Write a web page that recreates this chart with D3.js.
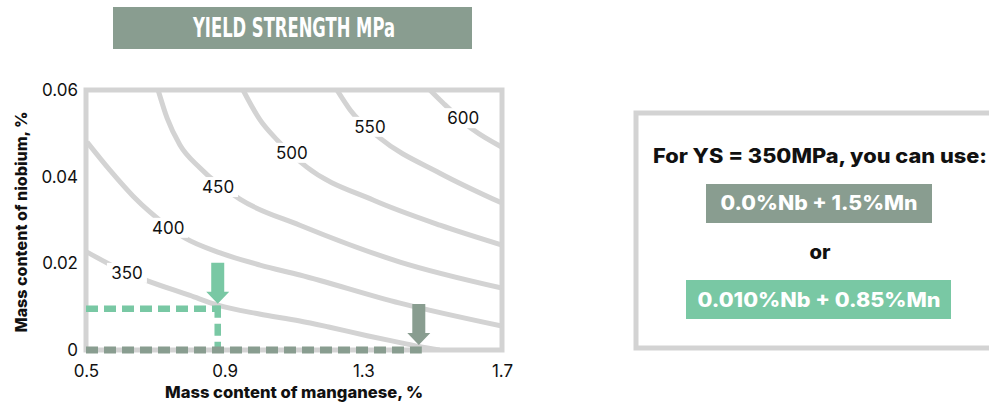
<!DOCTYPE html>
<html>
<head>
<meta charset="utf-8">
<script src="https://cdn.jsdelivr.net/npm/d3@7"></script>
<style>
  body { margin: 0; background: #fff; }
  svg { display: block; font-family: Inter, "DejaVu Sans", sans-serif; }
</style>
</head>
<body>
<script>
// Mn / Nb pairs
var levels = [350, 400, 450, 500, 550, 600];
var c350 = [[0.503,0.0226],[0.6,0.0185],[0.67,0.0162],[0.8,0.0126],[0.878,0.0104],[1.0,0.0083],[1.117,0.0067],[1.2,0.0053],[1.311,0.0033],[1.406,0.0017],[1.46,0.0008],[1.52,0]];
var c400 = [[0.503,0.048],[0.569,0.0415],[0.636,0.0355],[0.685,0.0318],[0.786,0.0258],[0.887,0.0224],[1.002,0.0196],[1.117,0.0173],[1.406,0.0108],[1.7,0.0055]];
var c450 = [[0.708,0.06],[0.734,0.0535],[0.771,0.0473],[0.829,0.042],[0.944,0.0348],[1.117,0.0288],[1.406,0.0203],[1.7,0.0143]];
var c500 = [[0.953,0.06],[1.002,0.0531],[1.051,0.0485],[1.137,0.0422],[1.328,0.0346],[1.521,0.0288],[1.7,0.0242]];
var c550 = [[1.224,0.06],[1.262,0.0554],[1.348,0.0489],[1.521,0.0408],[1.7,0.0339]];
var c600 = [[1.492,0.06],[1.53,0.057],[1.617,0.0508],[1.7,0.0468]];
var contours = [c350, c400, c450, c500, c550, c600];
// where each contour label sits
var labelPos = [[0.618,0.0178],[0.737,0.0282],[0.881,0.0376],[1.094,0.0455],[1.319,0.0515],[1.588,0.0535]];

var xTicks = [0.5, 0.9, 1.3, 1.7];
var yTicks = [0, 0.02, 0.04, 0.06];

// the two highlighted recipes
var greenPoint = [0.88, 0.0095];
var grayPoint = [1.46, 0];

var titleText = "YIELD STRENGTH MPa";
var panelLines = ["For YS = 350MPa, you can use:", "0.0%Nb + 1.5%Mn", "or", "0.010%Nb + 0.85%Mn"];

var GREEN = "#79c8a4", GRAY = "#899d90", LIGHT = "#d3d3d3";

var W = 989, H = 403;
var m = {left: 86, top: 90, right: 487, bottom: 53};
var pw = W - m.left - m.right, ph = H - m.top - m.bottom;

var svg = d3.select("body").append("svg")
    .attr("width", W)
    .attr("height", H);

// Title bar
svg.append("rect")
    .attr("x", 113).attr("y", 7)
    .attr("width", 359).attr("height", 42)
    .attr("fill", GRAY);
svg.append("text")
    .attr("x", 294).attr("y", 37)
    .attr("text-anchor", "middle")
    .attr("fill", "#fff")
    .attr("font-family", "DejaVu Sans, sans-serif")
    .attr("font-size", 27)
    .attr("font-weight", "bold")
    .attr("textLength", 202)
    .attr("lengthAdjust", "spacingAndGlyphs")
    .text(titleText);

var x = d3.scaleLinear().domain([0.5, 1.7]).range([0, pw]);
var y = d3.scaleLinear().domain([0, 0.06]).range([ph, 0]);

var g = svg.append("g").attr("transform", "translate(" + m.left + "," + m.top + ")");

g.append("clipPath").attr("id", "plot-clip")
  .append("rect").attr("width", pw).attr("height", ph);

// frame
g.append("rect")
    .attr("width", pw).attr("height", ph)
    .attr("fill", "none")
    .attr("stroke", LIGHT)
    .attr("stroke-width", 5);

var line = d3.line()
    .x(function(d) { return x(d[0]); })
    .y(function(d) { return y(d[1]); })
    .curve(d3.curveMonotoneX);

g.append("g").attr("clip-path", "url(#plot-clip)")
  .selectAll("path")
  .data(contours)
  .enter()
  .append("path")
    .attr("d", line)
    .attr("fill", "none")
    .attr("stroke", LIGHT)
    .attr("stroke-width", 5);

// contour labels, with a white patch that breaks the line
var lab = g.selectAll(".lvl")
    .data(levels)
    .enter()
    .append("g")
    .attr("class", "lvl")
    .attr("transform", function(d, i) {
        return "translate(" + x(labelPos[i][0]) + "," + y(labelPos[i][1]) + ")";
    });
lab.append("rect")
    .attr("x", -20).attr("y", -10)
    .attr("width", 40).attr("height", 20)
    .attr("fill", "#fff");
lab.append("text")
    .attr("text-anchor", "middle")
    .attr("dy", "0.36em")
    .attr("font-size", 17)
    .attr("fill", "#111")
    .text(function(d) { return d; });

// dashed guides
g.append("line")
    .attr("x1", 0).attr("x2", x(greenPoint[0]) + 3)
    .attr("y1", y(greenPoint[1])).attr("y2", y(greenPoint[1]))
    .attr("stroke", GREEN).attr("stroke-width", 6.5)
    .attr("stroke-dasharray", "12,6");
g.append("line")
    .attr("x1", x(greenPoint[0])).attr("x2", x(greenPoint[0]))
    .attr("y1", y(greenPoint[1]) - 3).attr("y2", ph)
    .attr("stroke", GREEN).attr("stroke-width", 6.5)
    .attr("stroke-dasharray", "12,6");
g.append("line")
    .attr("x1", 0).attr("x2", x(grayPoint[0]) + 3)
    .attr("y1", y(grayPoint[1])).attr("y2", y(grayPoint[1]))
    .attr("stroke", GRAY).attr("stroke-width", 7)
    .attr("stroke-dasharray", "12,6");

// down arrows pointing at the two recipes
function arrow(pt, color) {
    var tx = x(pt[0]), ty = y(pt[1]) - 5;
    var p = d3.path();
    p.moveTo(tx, ty);
    p.lineTo(tx - 11.5, ty - 12);
    p.lineTo(tx - 6.5, ty - 12);
    p.lineTo(tx - 6.5, ty - 41);
    p.lineTo(tx + 6.5, ty - 41);
    p.lineTo(tx + 6.5, ty - 12);
    p.lineTo(tx + 11.5, ty - 12);
    p.closePath();
    g.append("path").attr("d", p.toString()).attr("fill", color);
}
arrow(greenPoint, GREEN);
arrow(grayPoint, GRAY);

// axes
var xAxis = g.append("g")
    .attr("transform", "translate(0," + ph + ")")
    .call(d3.axisBottom(x).tickValues(xTicks).tickSize(0).tickPadding(15).tickFormat(d3.format(".1f")));
var yAxis = g.append("g")
    .call(d3.axisLeft(y).tickValues(yTicks).tickSize(0).tickPadding(8)
        .tickFormat(function(d) { return d === 0 ? "0" : d3.format(".2f")(d); }));
[xAxis, yAxis].forEach(function(a) {
    a.select(".domain").remove();
    a.selectAll("text")
        .attr("font-family", "Inter, sans-serif")
        .attr("font-size", 17)
        .attr("fill", "#111");
});

svg.append("text")
    .attr("x", 294).attr("y", 398)
    .attr("text-anchor", "middle")
    .attr("font-size", 16).attr("font-weight", 800).attr("fill", "#111")
    .attr("textLength", 258).attr("lengthAdjust", "spacingAndGlyphs")
    .text("Mass content of manganese, %");
svg.append("text")
    .attr("transform", "translate(27,222) rotate(-90)")
    .attr("text-anchor", "middle")
    .attr("font-size", 16).attr("font-weight", 800).attr("fill", "#111")
    .attr("textLength", 221).attr("lengthAdjust", "spacingAndGlyphs")
    .text("Mass content of niobium, %");

// right hand panel
svg.append("rect")
    .attr("x", 636).attr("y", 113)
    .attr("width", 400).attr("height", 235)
    .attr("fill", "none")
    .attr("stroke", LIGHT)
    .attr("stroke-width", 5);
svg.append("rect").attr("x", 706).attr("y", 184).attr("width", 226).attr("height", 39).attr("fill", GRAY);
svg.append("rect").attr("x", 686).attr("y", 280).attr("width", 265).attr("height", 39).attr("fill", GREEN);

var panel = [
    {t: panelLines[0], x: 820, y: 163, w: 334, c: "#111"},
    {t: panelLines[1], x: 819, y: 210, w: 197, c: "#fff"},
    {t: panelLines[2], x: 820, y: 259, w: 21, c: "#111"},
    {t: panelLines[3], x: 819, y: 307, w: 243, c: "#fff"}
];
svg.selectAll(".pl")
    .data(panel)
    .enter()
    .append("text")
    .attr("class", "pl")
    .attr("x", function(d) { return d.x; })
    .attr("y", function(d) { return d.y; })
    .attr("text-anchor", "middle")
    .attr("font-size", 19.5)
    .attr("font-weight", 800)
    .attr("fill", function(d) { return d.c; })
    .attr("textLength", function(d) { return d.w; })
    .attr("lengthAdjust", "spacingAndGlyphs")
    .text(function(d) { return d.t; });
</script>
</body>
</html>
